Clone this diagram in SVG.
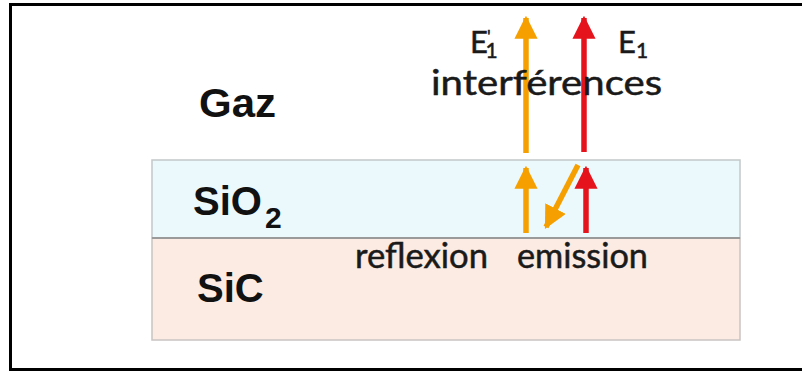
<svg xmlns="http://www.w3.org/2000/svg" width="802" height="374" viewBox="0 0 802 374">
<defs>
<style>
.lbl{font-family:"Liberation Sans",Arial,sans-serif;font-weight:bold;fill:#111}
.cal{font-family:Lato,"Open Sans",sans-serif;fill:#1a1a1a;stroke:#1a1a1a;stroke-width:0.5}
.or{stroke:#f5a000;stroke-width:5.5;fill:none}
.rd{stroke:#e5141c;stroke-width:5.5;fill:none}
</style>
<marker id="ho" viewBox="0 0 10 10" refX="9" refY="5" markerWidth="4.2" markerHeight="4.2" orient="auto" markerUnits="strokeWidth"><path d="M0,0 L10,5 L0,10 Z" fill="#f5a000"/></marker>
<marker id="hr" viewBox="0 0 10 10" refX="9" refY="5" markerWidth="4.2" markerHeight="4.2" orient="auto" markerUnits="strokeWidth"><path d="M0,0 L10,5 L0,10 Z" fill="#e5141c"/></marker>
</defs>
<rect x="0" y="0" width="802" height="374" fill="#fff"/>
<rect x="10.5" y="4.5" width="810" height="365" fill="none" stroke="#000" stroke-width="3"/>
<g id="sio2">
<rect x="152" y="160" width="588" height="78" fill="#ebf9fc" stroke="#c4c8c8" stroke-width="1.5"/>
<text class="lbl" x="193" y="215" font-size="40">SiO<tspan font-size="30" dy="13" dx="3">2</tspan></text>
</g>
<g id="sic">
<rect x="152" y="238" width="588" height="102" fill="#fbebe3" stroke="#c8c4c2" stroke-width="1.5"/>
<line x1="152" y1="238" x2="740" y2="238" stroke="#9a9a9a" stroke-width="2"/>
<text class="lbl" x="197" y="302" font-size="40">SiC</text>
</g>
<g id="gaz">
<text class="lbl" x="199" y="117" font-size="40" textLength="77" lengthAdjust="spacingAndGlyphs">Gaz</text>
</g>
<g id="connectors">
<line class="or" x1="526" y1="153" x2="526" y2="18" marker-end="url(#ho)"/>
<line class="rd" x1="584" y1="152" x2="584" y2="18" marker-end="url(#hr)"/>
<line class="or" x1="526" y1="233" x2="526" y2="168" marker-end="url(#ho)"/>
<line class="rd" x1="586" y1="233" x2="586" y2="168" marker-end="url(#hr)"/>
<line class="or" x1="578" y1="165" x2="546" y2="227" marker-end="url(#ho)"/>
</g>
<g id="labels">
<text class="cal" x="431" y="95" font-size="34" textLength="231" lengthAdjust="spacingAndGlyphs">interférences</text>
<text class="cal" x="355" y="268" font-size="34" textLength="133" lengthAdjust="spacingAndGlyphs">reflexion</text>
<text class="cal" x="517" y="268" font-size="34" textLength="131" lengthAdjust="spacingAndGlyphs">emission</text>
<text class="cal" x="470" y="53" font-size="31">E<tspan font-size="18" dx="-1" dy="-10">'</tspan><tspan font-size="21" dx="-5" dy="15">1</tspan></text>
<text class="cal" x="618" y="53" font-size="31">E<tspan font-size="21" dy="5">1</tspan></text>
</g>
</svg>
